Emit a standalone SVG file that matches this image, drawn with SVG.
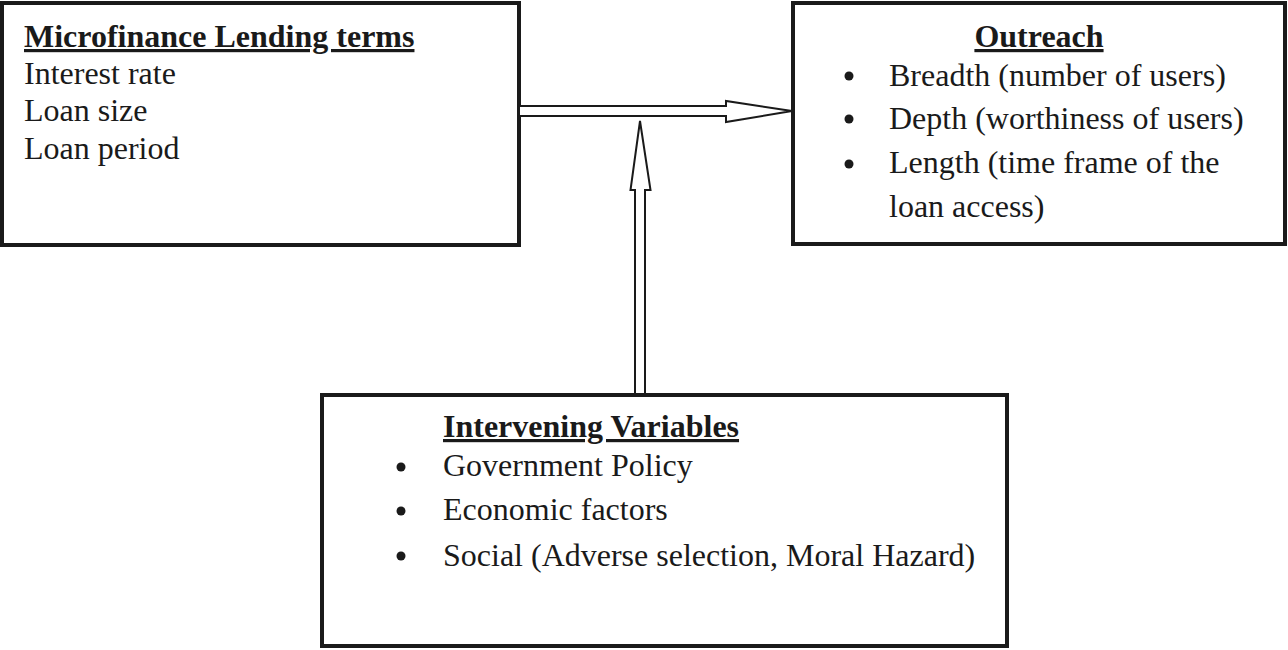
<svg xmlns="http://www.w3.org/2000/svg" width="1288" height="650" viewBox="0 0 1288 650">
<style>
.box{fill:#fff;stroke:#1a1a1a;stroke-width:4}
.t{font-family:"Liberation Serif","Times New Roman",serif;font-size:32px;fill:#1a1a1a}
.b{font-weight:bold;text-decoration:underline}
.arr{fill:#fff;stroke:#1a1a1a;stroke-width:2;stroke-linejoin:miter}
.dot{fill:#1a1a1a}
</style>
<rect width="1288" height="650" fill="#fff"/>
<g id="lending">
<rect class="box" x="2" y="3" width="517" height="242"/>
<text class="t b" x="24" y="47">Microfinance Lending terms</text>
<text class="t" x="24" y="84">Interest rate</text>
<text class="t" x="24" y="121">Loan size</text>
<text class="t" x="24" y="159">Loan period</text>
</g>
<g id="outreach">
<rect class="box" x="793" y="3" width="492" height="241"/>
<text class="t b" x="1039" y="47" text-anchor="middle">Outreach</text>
<circle class="dot" cx="849" cy="76" r="4.5"/>
<text class="t" x="889" y="86">Breadth (number of users)</text>
<circle class="dot" cx="849" cy="119" r="4.5"/>
<text class="t" x="889" y="129">Depth (worthiness of users)</text>
<circle class="dot" cx="849" cy="164" r="4.5"/>
<text class="t" x="889" y="173">Length (time frame of the</text>
<text class="t" x="889" y="217">loan access)</text>
</g>
<g id="intervening">
<rect class="box" x="322" y="395" width="685" height="251"/>
<text class="t b" x="443" y="437">Intervening Variables</text>
<circle class="dot" cx="401" cy="467" r="4.5"/>
<text class="t" x="443" y="476">Government Policy</text>
<circle class="dot" cx="401" cy="511" r="4.5"/>
<text class="t" x="443" y="520">Economic factors</text>
<circle class="dot" cx="401" cy="556" r="4.5"/>
<text class="t" x="443" y="566">Social (Adverse selection, Moral Hazard)</text>
</g>
<g id="connectors">
<polygon class="arr" points="519,106 726,106 726,101 792,111 726,122 726,116 519,116"/>
<polygon class="arr" points="635,394 635,190 630.5,190 640,121 650.5,190 645,190 645,394"/>
</g>
</svg>
